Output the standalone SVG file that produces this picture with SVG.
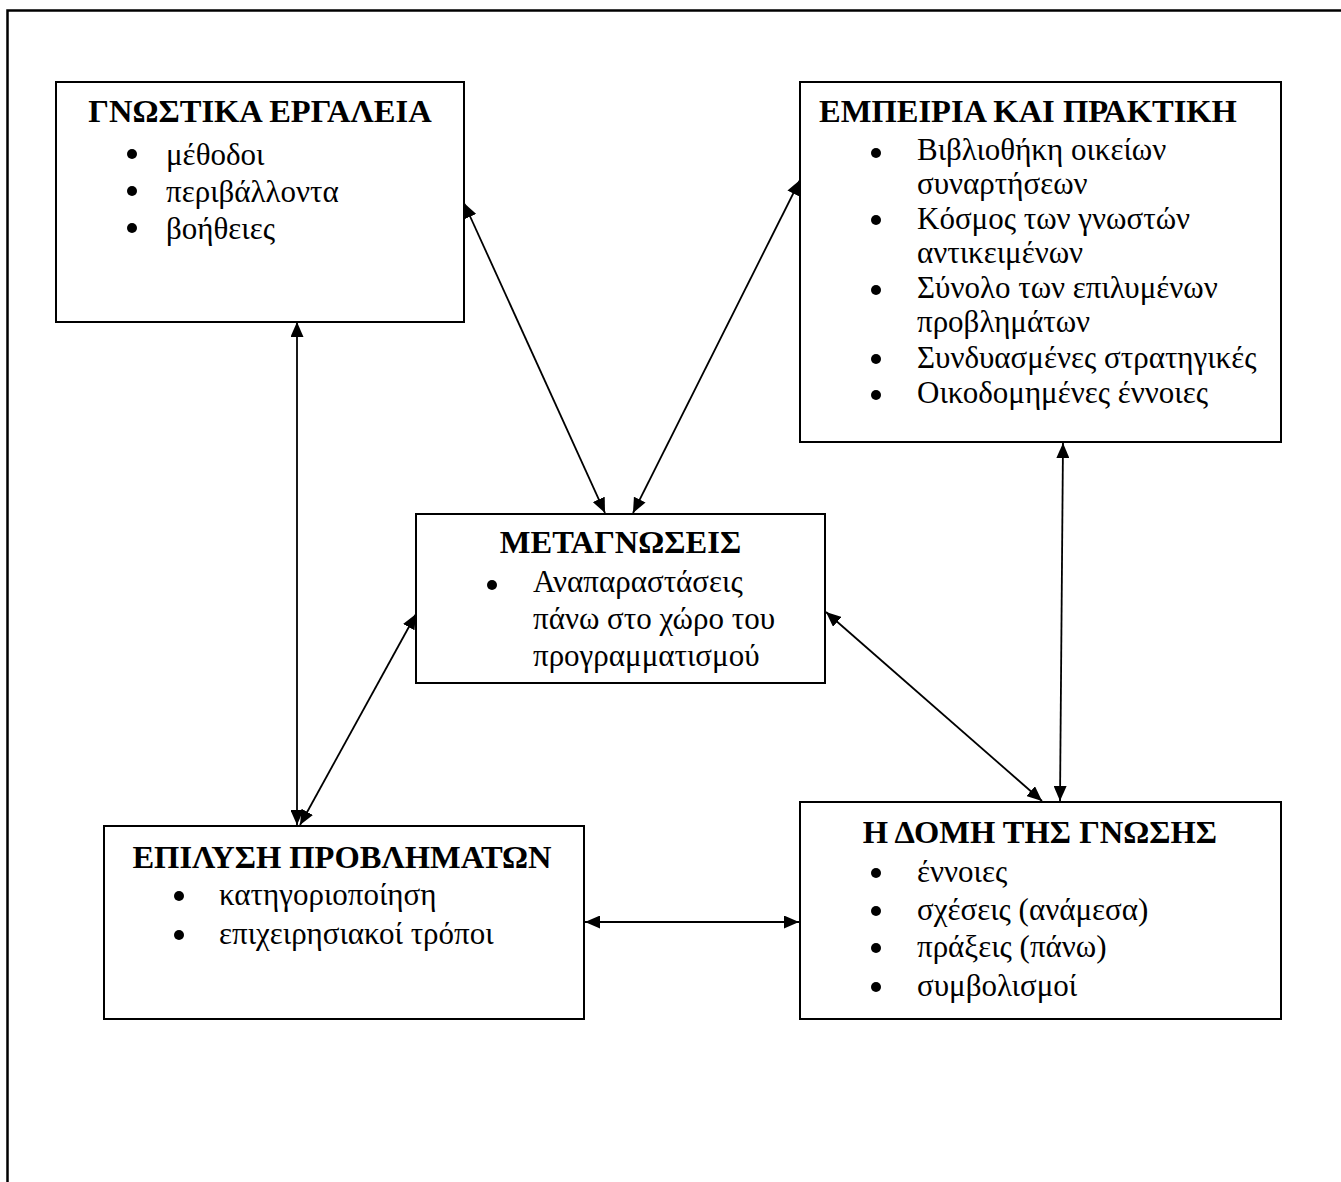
<svg xmlns="http://www.w3.org/2000/svg" width="1341" height="1182" viewBox="0 0 1341 1182">
<style>
.box{fill:#fff;stroke:#000;stroke-width:2}
.t{font-family:"Liberation Serif","Times New Roman",serif;font-size:32.5px;font-weight:bold;text-anchor:middle;fill:#000}
.b{font-family:"Liberation Serif","Times New Roman",serif;font-size:31px;fill:#000}
.dot{fill:#000}
.c{stroke:#000;stroke-width:1.8;fill:none;marker-start:url(#ah);marker-end:url(#ah)}
</style>
<defs>
<marker id="ah" markerUnits="userSpaceOnUse" markerWidth="16" markerHeight="13" refX="15" refY="6.5" orient="auto-start-reverse">
<path d="M0,0 L15,6.5 L0,13 z" fill="#000"/>
</marker>
</defs>
<rect width="1341" height="1182" fill="#fff"/>
<path d="M7.5,1182 V10.5 H1341" fill="none" stroke="#000" stroke-width="2.5"/>

<g id="n1">
<rect class="box" x="56" y="82" width="408" height="240"/>
<text class="t" x="260" y="122">ΓΝΩΣΤΙΚΑ ΕΡΓΑΛΕΙΑ</text>
<circle class="dot" cx="132" cy="154" r="5"/><text class="b" x="166" y="165">μέθοδοι</text>
<circle class="dot" cx="132" cy="191" r="5"/><text class="b" x="166" y="202">περιβάλλοντα</text>
<circle class="dot" cx="132" cy="228" r="5"/><text class="b" x="166" y="239">βοήθειες</text>
</g>

<g id="n2">
<rect class="box" x="800" y="82" width="481" height="360"/>
<text class="t" x="1028" y="122">ΕΜΠΕΙΡΙΑ ΚΑΙ ΠΡΑΚΤΙΚΗ</text>
<circle class="dot" cx="876" cy="153" r="5"/><text class="b" x="917" y="160">Βιβλιοθήκη οικείων</text>
<text class="b" x="917" y="194">συναρτήσεων</text>
<circle class="dot" cx="876" cy="220" r="5"/><text class="b" x="917" y="229">Κόσμος των γνωστών</text>
<text class="b" x="917" y="263">αντικειμένων</text>
<circle class="dot" cx="876" cy="290" r="5"/><text class="b" x="917" y="298">Σύνολο των επιλυμένων</text>
<text class="b" x="917" y="332">προβλημάτων</text>
<circle class="dot" cx="876" cy="359" r="5"/><text class="b" x="917" y="368">Συνδυασμένες στρατηγικές</text>
<circle class="dot" cx="876" cy="395" r="5"/><text class="b" x="917" y="403">Οικοδομημένες έννοιες</text>
</g>

<g id="n3">
<rect class="box" x="416" y="514" width="409" height="169"/>
<text class="t" x="620.5" y="553">ΜΕΤΑΓΝΩΣΕΙΣ</text>
<circle class="dot" cx="492" cy="585" r="5"/><text class="b" x="533" y="592">Αναπαραστάσεις</text>
<text class="b" x="533" y="629">πάνω στο χώρο του</text>
<text class="b" x="533" y="666">προγραμματισμού</text>
</g>

<g id="n4">
<rect class="box" x="104" y="826" width="480" height="193"/>
<text class="t" x="342" y="868">ΕΠΙΛΥΣΗ ΠΡΟΒΛΗΜΑΤΩΝ</text>
<circle class="dot" cx="179" cy="896" r="5"/><text class="b" x="219" y="905">κατηγοριοποίηση</text>
<circle class="dot" cx="179" cy="935" r="5"/><text class="b" x="219" y="944">επιχειρησιακοί τρόποι</text>
</g>

<g id="n5">
<rect class="box" x="800" y="802" width="481" height="217"/>
<text class="t" x="1040" y="843">Η ΔΟΜΗ ΤΗΣ ΓΝΩΣΗΣ</text>
<circle class="dot" cx="876" cy="873" r="5"/><text class="b" x="917" y="882">έννοιες</text>
<circle class="dot" cx="876" cy="911" r="5"/><text class="b" x="917" y="920">σχέσεις (ανάμεσα)</text>
<circle class="dot" cx="876" cy="948" r="5"/><text class="b" x="917" y="957">πράξεις (πάνω)</text>
<circle class="dot" cx="876" cy="987" r="5"/><text class="b" x="917" y="996">συμβολισμοί</text>
</g>

<g id="connectors">
<line class="c" x1="464" y1="203" x2="605" y2="513"/>
<line class="c" x1="800" y1="180" x2="633" y2="513"/>
<line class="c" x1="297" y1="322" x2="297" y2="825"/>
<line class="c" x1="416" y1="614" x2="300" y2="825"/>
<line class="c" x1="826" y1="612" x2="1042" y2="801"/>
<line class="c" x1="1063" y1="443" x2="1060" y2="801"/>
<line class="c" x1="585" y1="922" x2="799" y2="922"/>
</g>
</svg>
